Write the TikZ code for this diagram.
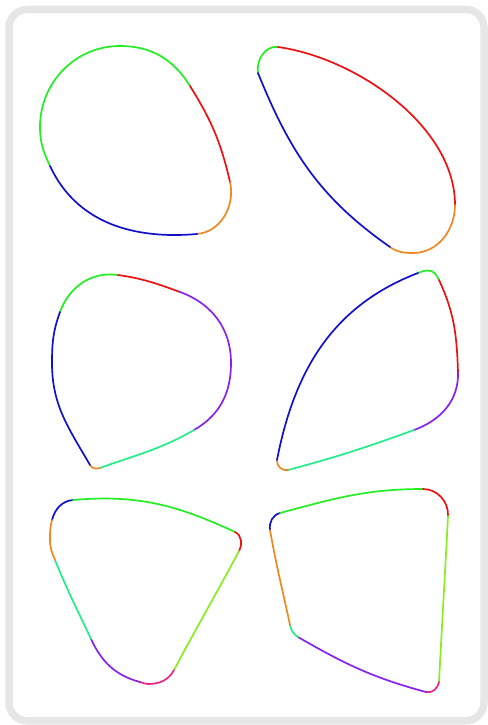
\documentclass[tikz,border=0pt]{standalone}
\usepackage{xcolor}
\usepackage{tikz}
\definecolor{lpGreen}{HTML}{22EE22}
\definecolor{lpRed}{HTML}{EE1111}
\definecolor{lpBlue}{HTML}{1111CC}
\definecolor{lpOrange}{HTML}{EE8822}
\definecolor{lpPurple}{HTML}{8822EE}
\definecolor{lpSpring}{HTML}{22EE88}
\definecolor{lpLime}{HTML}{88EE22}
\definecolor{lpPink}{HTML}{EE2288}
\definecolor{lpFrame}{HTML}{E6E6E6}
\tikzset{
  lp diagram/.style={x=1pt, y=-1pt, line cap=round, line join=round},
  lp frame/.style={draw=lpFrame, fill=white, line width=7.5pt,
    rounded corners=18pt},
  lp arc/.style={line width=1.7pt}
}
\begin{document}
\begin{tikzpicture}[lp diagram]
\useasboundingbox (0,0) rectangle (487,725);
\draw[lp frame] (9,9.5) rectangle (484,720.75);
\draw[lp arc,lpGreen] (50,166) to[out=-245,in=-90] (40,127) to[out=-270,in=-180] (120,46) to[out=0,in=-238] (190,86);
\draw[lp arc,lpRed] (190,86) to[out=-58,in=-257] (230,182);
\draw[lp arc,lpOrange] (230,182) to[out=-77,in=5] (197,234);
\draw[lp arc,lpBlue] (197,234) to[out=-175,in=-65] (50,166);
\draw[lp arc,lpGreen] (258,73) to[out=-260,in=-188] (278,47);
\draw[lp arc,lpRed] (278,47) to[out=-8,in=-270,looseness=0.85] (455,205);
\draw[lp arc,lpOrange] (455,205) to[out=-90,in=0] (413,253) to[out=-180,in=-35] (390,247);
\draw[lp arc,lpBlue] (390,247) to[out=-215,in=-68] (258,73);
\draw[lp arc,lpGreen] (60,312) to[out=-290,in=-188] (118,275);
\draw[lp arc,lpRed] (118,275) to[out=-8,in=-200] (180,292);
\draw[lp arc,lpPurple] (180,292) to[out=-20,in=-270] (231,363) to[out=-90,in=-330] (194,430);
\draw[lp arc,lpSpring] (194,430) to[out=-150,in=-340] (100,468);
\draw[lp arc,lpOrange] (100,468) to[out=-160,in=-60] (90,465);
\draw[lp arc,lpBlue] (90,465) to[out=-240,in=-90] (52,363) to[out=-270,in=-110] (60,312);
\draw[lp arc,lpGreen] (418,273) to[out=-339,in=-180] (428,270.5) to[out=0,in=-245] (439,280);
\draw[lp arc,lpRed] (439,280) to[out=-65,in=-268] (458,372);
\draw[lp arc,lpPurple] (458,372) to[out=-88,in=-340] (414,430);
\draw[lp arc,lpSpring] (414,430) to[out=-160,in=-345] (288,470);
\draw[lp arc,lpOrange] (288,470) to[out=-165,in=-101] (277,460);
\draw[lp arc,lpBlue] (277,460) to[out=-281,in=-159] (418,273);
\draw[lp arc,lpBlue] (52,520) to[out=-285,in=-175] (73,500);
\draw[lp arc,lpGreen] (73,500) to[out=-355,in=-205] (235,532);
\draw[lp arc,lpRed] (235,532) to[out=-25,in=62] (239,551);
\draw[lp arc,lpLime] (239,551) to[out=-118,in=62] (174,670);
\draw[lp arc,lpPink] (174,670) to[out=-118,in=0] (148,684) to[out=-180,in=-15] (140,682);
\draw[lp arc,lpPurple] (140,682) to[out=-195,in=-65] (91,639);
\draw[lp arc,lpSpring] (91,639) to[out=-245,in=-68] (55,560);
\draw[lp arc,lpOrange] (55,560) to[out=-248,in=-90] (50,540) to[out=-270,in=-105] (52,520);
\draw[lp arc,lpBlue] (270,530) to[out=-262,in=-165] (280,513);
\draw[lp arc,lpGreen] (280,513) to[out=-345,in=-180] (423,489);
\draw[lp arc,lpRed] (423,489) to[out=0,in=-273] (448,516);
\draw[lp arc,lpLime] (448,516) to[out=-93,in=-273] (439,682);
\draw[lp arc,lpPink] (439,682) to[out=-100,in=-15] (426,692);
\draw[lp arc,lpPurple] (426,692) to[out=-195,in=-30] (298,637);
\draw[lp arc,lpSpring] (298,637) to[out=-210,in=-75] (290,625);
\draw[lp arc,lpOrange] (290,625) to[out=-258,in=-80] (270,530);
\end{tikzpicture}
\end{document}
